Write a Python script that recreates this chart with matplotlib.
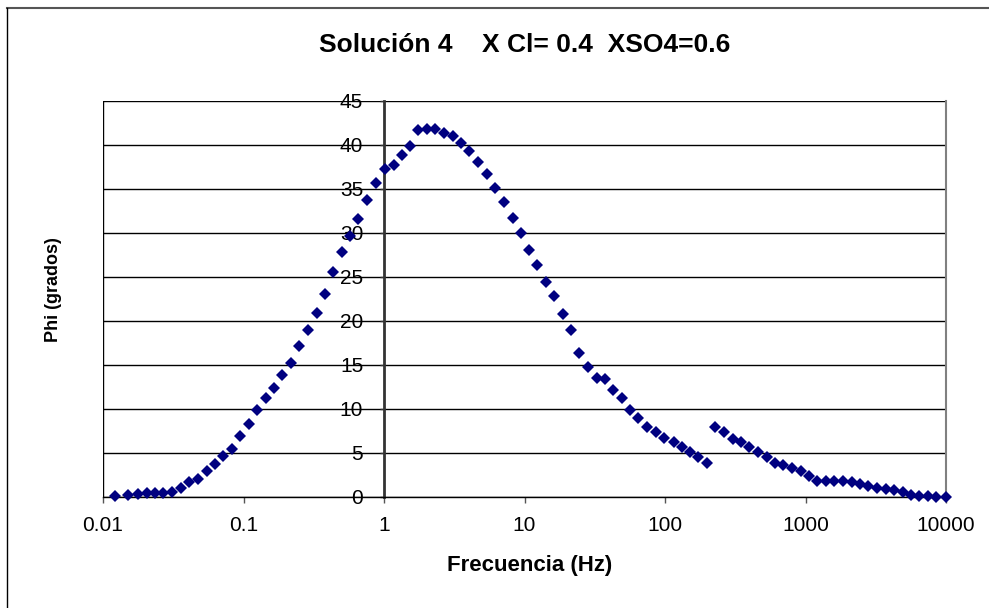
import matplotlib
matplotlib.use("Agg")
import matplotlib.pyplot as plt
from matplotlib.lines import Line2D

# Phase angle vs. frequency (solution 4)
freq_hz = [
    0.0122, 0.0151, 0.0178, 0.0205, 0.0234, 0.0269, 0.0308, 0.0357, 0.0412, 0.0477,
    0.0547, 0.0627, 0.0718, 0.0824, 0.0944, 0.109, 0.125, 0.144, 0.165, 0.189,
    0.217, 0.250, 0.288, 0.332, 0.382, 0.436, 0.500, 0.573, 0.657, 0.753,
    0.873, 1.02, 1.17, 1.34, 1.53, 1.75, 2.01, 2.31, 2.67, 3.08,
    3.52, 4.05, 4.64, 5.38, 6.17, 7.15, 8.24, 9.39, 10.8, 12.3,
    14.2, 16.2, 18.7, 21.4, 24.4, 28.2, 32.7, 37.4, 42.9, 49.7,
    56.4, 64.6, 74.8, 85.9, 98.9, 115, 132, 151, 173, 200,
    227, 263, 303, 348, 398, 457, 530, 607, 695, 805,
    925, 1059, 1213, 1393, 1595, 1840, 2133, 2444, 2799, 3213,
    3724, 4267, 4919, 5636, 6457, 7413, 8492, 10000,
]
phi_deg = [
    0.1, 0.2, 0.3, 0.4, 0.5, 0.5, 0.6, 1.0, 1.7, 2.0,
    3.0, 3.8, 4.6, 5.4, 6.9, 8.3, 9.9, 11.2, 12.4, 13.8,
    15.2, 17.2, 19.0, 20.9, 23.1, 25.6, 27.8, 29.6, 31.6, 33.7,
    35.6, 37.3, 37.7, 38.8, 39.9, 41.7, 41.8, 41.8, 41.3, 41.0,
    40.2, 39.3, 38.0, 36.7, 35.1, 33.5, 31.7, 30.0, 28.1, 26.3,
    24.4, 22.8, 20.8, 19.0, 16.3, 14.8, 13.5, 13.4, 12.1, 11.2,
    9.9, 9.0, 8.0, 7.4, 6.7, 6.2, 5.7, 5.1, 4.5, 3.9,
    8.0, 7.4, 6.6, 6.2, 5.7, 5.1, 4.5, 3.9, 3.6, 3.3,
    3.0, 2.4, 1.8, 1.8, 1.8, 1.8, 1.7, 1.5, 1.3, 1.0,
    0.9, 0.8, 0.6, 0.2, 0.15, 0.1, 0.05, 0.0,
]

x_ticks = [0.01, 0.1, 1, 10, 100, 1000, 10000]
x_tick_labels = ["0.01", "0.1", "1", "10", "100", "1000", "10000"]
y_ticks = [0, 5, 10, 15, 20, 25, 30, 35, 40, 45]
y_tick_labels = [str(v) for v in y_ticks]

title_text = "Solución 4    X Cl= 0.4  XSO4=0.6"
x_label = "Frecuencia (Hz)"
y_label = "Phi (grados)"

W, H = 989, 608
fonts = ["Liberation Sans", "DejaVu Sans"]

fig = plt.figure(figsize=(W / 100, H / 100), dpi=100)
fig.patch.set_facecolor("white")

left, right, top, bottom = 103, 946, 100.7, 497
ax = fig.add_axes([left / W, 1 - bottom / H, (right - left) / W, (bottom - top) / H])
ax.set_xscale("log")
ax.set_xlim(0.01, 10000)
ax.set_ylim(0, 45)

# horizontal gridlines
ax.set_axisbelow(True)
ax.yaxis.grid(True, color="black", linewidth=1.0)
ax.xaxis.grid(False)

# spines: value axis crosses at 1 Hz
ax.spines["left"].set_position(("data", 1))
ax.spines["left"].set_color("#333333")
ax.spines["left"].set_linewidth(2.0)
ax.spines["top"].set_visible(False)
ax.spines["right"].set_color("#808080")
ax.spines["right"].set_linewidth(1.5)
ax.spines["bottom"].set_color("black")
ax.spines["bottom"].set_linewidth(1.0)
ax.axvline(0.01, color="black", linewidth=1.0)

ax.set_xticks(x_ticks)
ax.set_xticklabels(x_tick_labels)
ax.xaxis.set_minor_locator(matplotlib.ticker.NullLocator())
ax.set_yticks(y_ticks)
ax.set_yticklabels(y_tick_labels)
ax.tick_params(axis="x", direction="out", length=4, width=1, color="#555555",
               pad=9.5, labelsize=15)
ax.tick_params(axis="y", direction="out", length=3, width=1, color="#333333",
               pad=12, labelsize=15)
for lab in ax.get_xticklabels() + ax.get_yticklabels():
    lab.set_family(fonts)

ax.plot(freq_hz, phi_deg, linestyle="none", marker="D", markersize=6.2,
        color="#000080", markeredgewidth=0, clip_on=False, zorder=5)

fig.text(524.5 / W, 1 - 45 / H, title_text, ha="center", va="center",
         fontsize=19, fontweight="bold", family=fonts)
fig.text(530 / W, 1 - 565 / H, x_label, ha="center", va="center",
         fontsize=16, fontweight="bold", family=fonts)
fig.text(53 / W, 1 - 290 / H, y_label, ha="center", va="center", rotation=90,
         fontsize=13, fontweight="bold", family=fonts)

# chart frame
fig.add_artist(Line2D([7 / W, 1], [1 - 8 / H, 1 - 8 / H], color="#555555", linewidth=1.5))
fig.add_artist(Line2D([7 / W, 7 / W], [0, 1 - 8 / H], color="black", linewidth=1.0))

fig.savefig("out.png", dpi=100, facecolor="white")
